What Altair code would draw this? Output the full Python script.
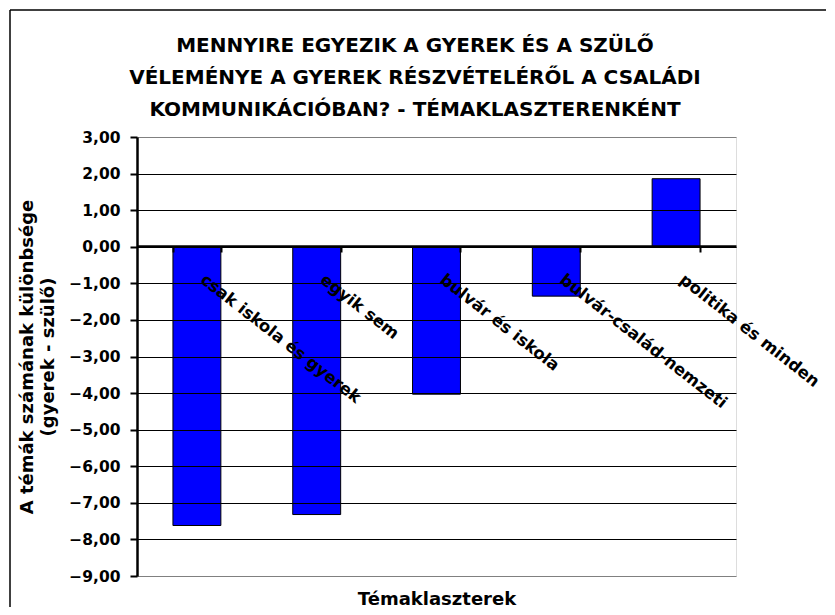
import altair as alt
import pandas as pd

categories = ["csak iskola és gyerek", "egyik sem", "bulvár és iskola",
              "bulvár-család-nemzeti", "politika és minden"]
values = [-7.62, -7.32, -4.03, -1.35, 1.86]
y_ticks = [3, 2, 1, 0, -1, -2, -3, -4, -5, -6, -7, -8, -9]

title_lines = ["MENNYIRE EGYEZIK A GYEREK ÉS A SZÜLŐ",
               "VÉLEMÉNYE A GYEREK RÉSZVÉTELÉRŐL A CSALÁDI",
               "KOMMUNIKÁCIÓBAN? - TÉMAKLASZTERENKÉNT"]
y_title = ["A témák számának különbsége", "(gyerek - szülő)"]
x_title = "Témaklaszterek"

df = pd.DataFrame({"cat": categories, "val": values})

FONT = "DejaVu Sans"
W, H = 599, 439

x_enc = alt.X(
    "cat:N", sort=categories,
    scale=alt.Scale(paddingInner=0.6, paddingOuter=0.3),
    axis=alt.Axis(
        title=x_title, titleFont=FONT, titleFontSize=18, titleFontWeight="bold",
        titleColor="black", titleY=358, titleBaseline="alphabetic", titlePadding=0,
        offset=-330, zindex=2,
        domainColor="black", domainWidth=2.5,
        tickColor="black", tickWidth=2, tickSize=6, tickBand="extent",
        labelFont=FONT, labelFontSize=16.5, labelFontWeight="bold", labelColor="black",
        labelAngle=38, labelAlign="left", labelBaseline="top",
        labelPadding=19, labelOffset=10, labelOverlap=False, labelBound=False,
        labelLimit=400, grid=False,
    ),
)

y_enc = alt.Y(
    "val:Q",
    scale=alt.Scale(domain=[-9, 3], nice=False, zero=False),
    axis=alt.Axis(
        values=y_ticks,
        labelExpr="replace(format(datum.value, '.2f'), '.', ',')",
        title=y_title, titleFont=FONT, titleFontSize=18, titleFontWeight="bold",
        titleColor="black", titlePadding=11, titleLineHeight=21,
        labelFont=FONT, labelFontSize=15.5, labelFontWeight="bold", labelColor="black",
        labelPadding=10,
        domainColor="black", domainWidth=2.5, zindex=2,
        tickColor="black", tickWidth=2, tickSize=7,
        grid=True, gridColor=alt.condition("datum.value == 3 || datum.value == -9",
                                           alt.value("#808080"), alt.value("black")),
        gridWidth=1,
    ),
)

bars = alt.Chart(df).mark_bar(color="#0000FF", stroke="black", strokeWidth=1).encode(
    x=x_enc, y=y_enc, y2=alt.datum(0)
)

frame_df = pd.DataFrame({"a": [0]})
title_mark = alt.Chart(frame_df).mark_text(
    font=FONT, fontSize=20, fontWeight="bold", color="black",
    align="center", baseline="alphabetic", lineHeight=32,
).encode(x=alt.value(278), y=alt.value(-85), text=alt.value(title_lines))

border_left = alt.Chart(frame_df).mark_rule(color="black", strokeWidth=1.5).encode(
    x=alt.value(-127), y=alt.value(-127), y2=alt.value(480)
)
border_top = alt.Chart(frame_df).mark_rule(color="black", strokeWidth=1.5).encode(
    x=alt.value(-127), x2=alt.value(720), y=alt.value(-127)
)

chart = alt.layer(bars, title_mark, border_left, border_top).properties(
    width=W, height=H,
    padding={"left": 129, "top": 129, "right": 90, "bottom": 31},
    autosize=alt.AutoSizeParams(type="none"),
).configure_view(stroke="#808080", strokeWidth=2).configure(background="white")

chart.save("out.html", embed_options={"renderer": "svg", "actions": False})
